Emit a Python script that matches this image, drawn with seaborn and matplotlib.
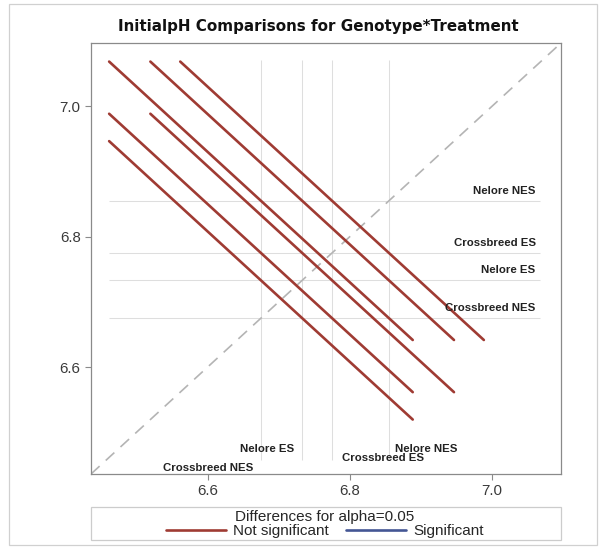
import numpy as np
import pandas as pd
import matplotlib
matplotlib.use("Agg")
import matplotlib.pyplot as plt
from matplotlib.lines import Line2D
from matplotlib.patches import Rectangle
import seaborn as sns

# LS-means of InitialpH for each Genotype*Treatment level
levels = ["Crossbreed NES", "Nelore ES", "Crossbreed ES", "Nelore NES"]
lsmeans = [6.675, 6.733, 6.775, 6.855]
# confidence-interval half-width of each pairwise difference (balanced design)
diff_ci_halfwidth = 0.427
alpha = 0.05
tick_values = [6.6, 6.8, 7.0]

NOT_SIG = "#9f3b33"
SIG = "#445694"

# one slope -1 segment per pair, centred at (mean_i, mean_j)
rows = []
pid = 0
for i in range(len(levels)):
    for j in range(i + 1, len(levels)):
        mi, mj = lsmeans[i], lsmeans[j]
        half = diff_ci_halfwidth / 2
        status = "Significant" if abs(mj - mi) > diff_ci_halfwidth else "Not significant"
        rows.append(dict(pair=pid, x=mi - half, y=mj + half, status=status))
        rows.append(dict(pair=pid, x=mi + half, y=mj - half, status=status))
        pid += 1
seg = pd.DataFrame(rows)

sns.set_theme(style="white")
plt.rcParams["font.family"] = ["Liberation Sans", "DejaVu Sans"]

W, H = 599, 551
fig = plt.figure(figsize=(W / 100, H / 100), dpi=100)
ax = fig.add_axes([91 / W, 1 - 474 / H, 470 / W, 431 / H])

lo, hi = 6.436, 7.097
ax.set_xlim(lo, hi)
ax.set_ylim(lo, hi)

# reference grid at each LS-mean
ax.hlines(lsmeans, 6.4613, 7.067, color="#dedede", lw=0.75, zorder=1)
ax.vlines(lsmeans, 6.457, 7.071, color="#dedede", lw=0.75, zorder=1)
# line of equality
ax.axline((lsmeans[0], lsmeans[0]), slope=1, color="#b4b4b4", lw=1.2,
          dashes=(7, 5), zorder=1)

sns.lineplot(data=seg, x="x", y="y", units="pair", estimator=None, sort=False,
             hue="status", palette={"Not significant": NOT_SIG, "Significant": SIG},
             lw=1.9, legend=False, ax=ax, zorder=3)

# level labels along the right side, just above each horizontal line
for name, m in zip(levels, lsmeans):
    ax.annotate(name, xy=(7.0614, m), xytext=(0, 7.2), textcoords="offset points",
                ha="right", va="center", fontsize=8.2, fontweight="bold",
                color="#222222", zorder=4)

# level labels along the bottom, beside each vertical line
bottom_off = {"Crossbreed NES": (-38, 6.4452), "Nelore ES": (-25, 6.4739),
              "Crossbreed ES": (37, 6.4601), "Nelore NES": (27, 6.4739)}
for name, m in zip(levels, lsmeans):
    dx, yv = bottom_off[name]
    ax.annotate(name, xy=(m, yv), xytext=(dx, 0), textcoords="offset points",
                ha="center", va="center", fontsize=8.2, fontweight="bold",
                color="#222222", zorder=4)

ax.set_xticks(tick_values)
ax.set_yticks(tick_values)
ax.set_xticklabels([f"{v:.1f}" for v in tick_values])
ax.set_yticklabels([f"{v:.1f}" for v in tick_values])
ax.tick_params(axis="both", which="major", length=4.5, width=0.8, color="#8a8a8a",
               labelsize=10.8, labelcolor="#3a3a3a", pad=3, bottom=True, left=True)
ax.set_xlabel("")
ax.set_ylabel("")
for s in ax.spines.values():
    s.set_color("#8a8a8a")
    s.set_linewidth(0.9)

fig.text(318.5 / W, 1 - 27 / H, "InitialpH Comparisons for Genotype*Treatment",
         ha="center", va="center", fontsize=10.9, fontweight="bold",
         family=["DejaVu Sans"], color="#111111")

# legend block under the plot
fig.patches.append(Rectangle((91 / W, 1 - 540 / H), 470 / W, 33.3 / H,
                             transform=fig.transFigure, fill=False,
                             edgecolor="#cccccc", lw=0.9))
handles = [Line2D([], [], color=NOT_SIG, lw=1.9), Line2D([], [], color=SIG, lw=1.9)]
leg = fig.legend(handles, ["Not significant", "Significant"], ncol=2,
                 title=f"Differences for alpha={alpha}", frameon=False,
                 loc="center", bbox_to_anchor=(325 / W, 1 - 524 / H),
                 fontsize=11, title_fontsize=11, handlelength=3.9,
                 handletextpad=0.5, columnspacing=1.1, borderpad=0,
                 labelspacing=0.1)
leg._legend_box.sep = 0

# outer frame of the graph
fig.patches.append(Rectangle((9 / W, 1 - 545 / H), 588 / W, 541 / H,
                             transform=fig.transFigure, fill=False,
                             edgecolor="#d0d0d0", lw=0.9))

fig.savefig("out.png", dpi=100, facecolor="white")
